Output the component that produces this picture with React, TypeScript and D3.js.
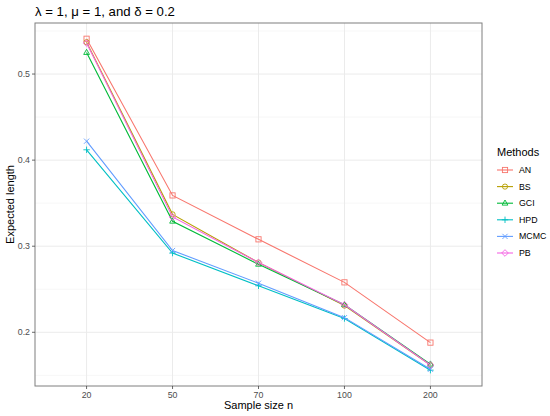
import * as d3 from 'd3'

const sampleSizes = ['20', '50', '70', '100', '200']
const methods = ['AN', 'BS', 'GCI', 'HPD', 'MCMC', 'PB']
const methodColors = ['#F8766D', '#B79F00', '#00BA38', '#00BFC4', '#619CFF', '#F564E3']
const methodShapes = ['square', 'circle', 'triangle', 'plus', 'cross', 'diamond']

const anValues = [0.541, 0.359, 0.308, 0.258, 0.188]
const bsValues = [0.537, 0.337, 0.281, 0.231, 0.162]
const gciValues = [0.525, 0.329, 0.279, 0.232, 0.163]
const hpdValues = [0.412, 0.292, 0.254, 0.216, 0.156]
const mcmcValues = [0.422, 0.295, 0.257, 0.217, 0.157]
const pbValues = [0.536, 0.334, 0.281, 0.232, 0.162]
const seriesValues = [anValues, bsValues, gciValues, hpdValues, mcmcValues, pbValues]

const yTicks = [0.2, 0.3, 0.4, 0.5]
const yMinor = [0.15, 0.25, 0.35, 0.45, 0.55]

const W = 550
const H = 416
const panel = { left: 35, right: 482, top: 23, bottom: 386 }
const FONT = '"Liberation Sans", Arial, Helvetica, sans-serif'

function Shape({ kind, x, y, color }: { kind: string; x: number; y: number; color: string }) {
  const r = 2.6
  const common = { fill: 'none', stroke: color, strokeWidth: 0.9 }
  if (kind === 'square') return <rect x={x - r} y={y - r} width={2 * r} height={2 * r} {...common} />
  if (kind === 'circle') return <circle cx={x} cy={y} r={r} {...common} />
  if (kind === 'triangle') {
    const t = 3.2
    return <path d={`M${x},${y - t}L${x + t * 0.9},${y + t * 0.6}L${x - t * 0.9},${y + t * 0.6}Z`} {...common} />
  }
  if (kind === 'plus') return <path d={`M${x - 3.2},${y}H${x + 3.2}M${x},${y - 3.2}V${y + 3.2}`} {...common} />
  if (kind === 'cross') return <path d={`M${x - r},${y - r}L${x + r},${y + r}M${x - r},${y + r}L${x + r},${y - r}`} {...common} />
  const d = 3.3
  return <path d={`M${x},${y - d}L${x + d},${y}L${x},${y + d}L${x - d},${y}Z`} {...common} />
}

export default function App() {
  const x = d3.scalePoint<string>().domain(sampleSizes).range([panel.left, panel.right]).padding(0.6)
  const y = d3.scaleLinear().domain([0.1376, 0.5593]).range([panel.bottom, panel.top])
  const line = d3.line<number>().x((_, i) => x(sampleSizes[i])!).y(d => y(d))

  const legendX = 497
  const legendY0 = 170
  const legendStep = 16.6

  return (
    <svg width={W} height={H} style={{ position: 'absolute', left: 0, top: 0, fontFamily: FONT }}>
      <rect width={W} height={H} fill="#fff" />
      {/* grid */}
      {yMinor.map(t => (
        <line key={'m' + t} x1={panel.left} x2={panel.right} y1={y(t)} y2={y(t)} stroke="#F2F2F2" strokeWidth={0.6} />
      ))}
      {yTicks.map(t => (
        <line key={'g' + t} x1={panel.left} x2={panel.right} y1={y(t)} y2={y(t)} stroke="#EBEBEB" strokeWidth={1} />
      ))}
      {sampleSizes.map(s => (
        <line key={'v' + s} x1={x(s)} x2={x(s)} y1={panel.top} y2={panel.bottom} stroke="#EBEBEB" strokeWidth={1} />
      ))}
      {/* series */}
      {seriesValues.map((vals, k) => (
        <g key={methods[k]}>
          <path d={line(vals)!} fill="none" stroke={methodColors[k]} strokeWidth={1.1} />
          {vals.map((v, i) => (
            <Shape key={i} kind={methodShapes[k]} x={x(sampleSizes[i])!} y={y(v)} color={methodColors[k]} />
          ))}
        </g>
      ))}
      <rect x={panel.left} y={panel.top} width={panel.right - panel.left} height={panel.bottom - panel.top}
        fill="none" stroke="#7F7F7F" strokeWidth={1} />
      {/* y axis */}
      {yTicks.map(t => (
        <g key={'yt' + t}>
          <line x1={panel.left - 3} x2={panel.left} y1={y(t)} y2={y(t)} stroke="#444" strokeWidth={0.8} />
          <text x={panel.left - 5} y={y(t)} dy="0.35em" textAnchor="end" fontSize={8.8} fill="#4D4D4D">{t}</text>
        </g>
      ))}
      {/* x axis */}
      {sampleSizes.map(s => (
        <g key={'xt' + s}>
          <line x1={x(s)} x2={x(s)} y1={panel.bottom} y2={panel.bottom + 3} stroke="#444" strokeWidth={0.8} />
          <text x={x(s)} y={panel.bottom + 12} textAnchor="middle" fontSize={8.8} fill="#4D4D4D">{s}</text>
        </g>
      ))}
      <text x={(panel.left + panel.right) / 2} y={409} textAnchor="middle" fontSize={11} fill="#000">Sample size n</text>
      <text transform={`translate(14,${(panel.top + panel.bottom) / 2}) rotate(-90)`} textAnchor="middle" fontSize={11} fill="#000">Expected length</text>
      <text x={35} y={16} fontSize={13.2} fill="#000">λ = 1, μ = 1, and δ = 0.2</text>
      {/* legend */}
      <text x={legendX} y={156} fontSize={11} fill="#000">Methods</text>
      {methods.map((m, k) => {
        const ly = legendY0 + k * legendStep
        return (
          <g key={'l' + m}>
            <line x1={legendX} x2={legendX + 16} y1={ly} y2={ly} stroke={methodColors[k]} strokeWidth={1.1} />
            <Shape kind={methodShapes[k]} x={legendX + 8} y={ly} color={methodColors[k]} />
            <text x={legendX + 22} y={ly} dy="0.35em" fontSize={8.8} fill="#000">{m}</text>
          </g>
        )
      })}
    </svg>
  )
}
